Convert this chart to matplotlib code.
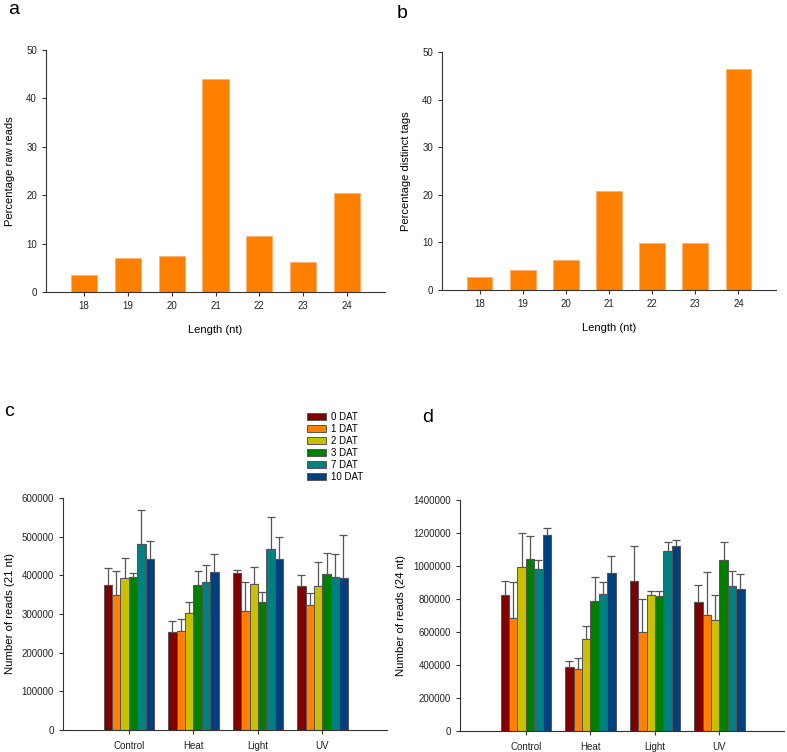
import matplotlib
matplotlib.use("Agg")
import matplotlib.pyplot as plt
import numpy as np

plt.rcParams['font.family'] = ['Liberation Sans', 'DejaVu Sans']

# ---------------- data ----------------
lengths = [18, 19, 20, 21, 22, 23, 24]
pct_raw_reads = [3.5, 7.1, 7.5, 44.1, 11.5, 6.1, 20.4]
pct_distinct_tags = [2.7, 4.3, 6.2, 20.9, 9.9, 9.9, 46.4]

treatments = ["Control", "Heat", "Light", "UV"]
dat_labels = ["0 DAT", "1 DAT", "2 DAT", "3 DAT", "7 DAT", "10 DAT"]
dat_colors = ["#800000", "#FF8000", "#C8C000", "#008000", "#008080", "#004080"]

# panel c: reads 21 nt (mean per treatment, one list per DAT)
c_0dat = [374000, 254000, 405000, 373000]
c_1dat = [348000, 257000, 307000, 324000]
c_2dat = [392000, 303000, 378000, 372000]
c_3dat = [396000, 374000, 331000, 404000]
c_7dat = [480000, 382000, 469000, 395000]
c_10dat = [442000, 408000, 441000, 392000]
c_0dat_err = [45000, 28000, 9000, 28000]
c_1dat_err = [64000, 29000, 77000, 30000]
c_2dat_err = [54000, 28000, 44000, 62000]
c_3dat_err = [11000, 37000, 26000, 54000]
c_7dat_err = [88000, 44000, 83000, 60000]
c_10dat_err = [47000, 47000, 59000, 113000]

# panel d: reads 24 nt
d_0dat = [823000, 389000, 912000, 781000]
d_1dat = [684000, 377000, 603000, 704000]
d_2dat = [996000, 557000, 825000, 672000]
d_3dat = [1043000, 787000, 817000, 1035000]
d_7dat = [981000, 833000, 1090000, 881000]
d_10dat = [1188000, 956000, 1120000, 863000]
d_0dat_err = [89000, 38000, 210000, 106000]
d_1dat_err = [220000, 67000, 196000, 258000]
d_2dat_err = [206000, 82000, 22000, 155000]
d_3dat_err = [137000, 149000, 34000, 113000]
d_7dat_err = [54000, 71000, 58000, 89000]
d_10dat_err = [44000, 105000, 40000, 89000]

c_means = [c_0dat, c_1dat, c_2dat, c_3dat, c_7dat, c_10dat]
c_errs = [c_0dat_err, c_1dat_err, c_2dat_err, c_3dat_err, c_7dat_err, c_10dat_err]
d_means = [d_0dat, d_1dat, d_2dat, d_3dat, d_7dat, d_10dat]
d_errs = [d_0dat_err, d_1dat_err, d_2dat_err, d_3dat_err, d_7dat_err, d_10dat_err]

# ---------------- figure ----------------
fig = plt.figure(figsize=(7.87, 7.52), dpi=100)
W, H = 787, 752


def add_axes_px(l, t, r, b):
    return fig.add_axes([l / W, 1 - b / H, (r - l) / W, (b - t) / H])


def style_axes(ax):
    for s in ("top", "right"):
        ax.spines[s].set_visible(False)
    for s in ("left", "bottom"):
        ax.spines[s].set_color("#333333")
        ax.spines[s].set_linewidth(0.8)
    ax.tick_params(axis="both", labelsize=7, colors="#333333", length=3, width=0.8,
                   labelcolor="#222222")


def length_panel(ax, vals, ylabel):
    ax.bar(lengths, vals, width=0.6, color="#FF8000", edgecolor="#FFB070", linewidth=0.6)
    ax.set_xlim(17.13, 24.87)
    ax.set_ylim(0, 50)
    ax.set_yticks([0, 10, 20, 30, 40, 50])
    ax.set_xticks(lengths)
    ax.tick_params(axis="x", length=2)
    style_axes(ax)
    ax.set_ylabel(ylabel, fontsize=8, labelpad=8)
    ax.set_xlabel("Length (nt)", fontsize=8, labelpad=10)


ax_a = add_axes_px(46, 50, 385, 292)
length_panel(ax_a, pct_raw_reads, "Percentage raw reads")
ax_b = add_axes_px(442, 52, 776, 290)
length_panel(ax_b, pct_distinct_tags, "Percentage distinct tags")


def group_panel(ax, means, errs, ymax, ystep, ylabel):
    x = np.arange(len(treatments))
    w = 0.13
    for i, (m, e) in enumerate(zip(means, errs)):
        pos = x + (i - 2.5) * w
        ax.bar(pos, m, width=w, color=dat_colors[i], edgecolor="#555555",
               linewidth=0.7, label=dat_labels[i], zorder=2)
        ax.errorbar(pos, m, yerr=[np.zeros(len(m)), e], fmt="none",
                    ecolor="#555555", elinewidth=0.9, capsize=2.6,
                    capthick=0.9, zorder=1)
    ax.set_xlim(-1.02, 4.0)
    ax.set_ylim(0, ymax)
    ax.set_yticks(np.arange(0, ymax + 1, ystep))
    ax.ticklabel_format(axis="y", style="plain")
    ax.set_xticks(x)
    ax.set_xticklabels(treatments)
    ax.tick_params(axis="x", length=0, pad=5)
    style_axes(ax)
    ax.set_ylabel(ylabel, fontsize=8.2, labelpad=5)


ax_c = add_axes_px(63, 498, 387, 730)
group_panel(ax_c, c_means, c_errs, 600000, 100000, "Number of reads (21 nt)")
ax_d = add_axes_px(460, 500, 784, 731)
group_panel(ax_d, d_means, d_errs, 1400000, 200000, "Number of reads (24 nt)")

handles, labels = ax_c.get_legend_handles_labels()
fig.legend(handles, labels, loc="upper left",
           bbox_to_anchor=(303 / W, 1 - 408 / H), frameon=False,
           fontsize=7, handlelength=2.0, handleheight=0.7,
           labelspacing=0.2, handletextpad=0.5, borderaxespad=0)

# panel letters
fig.text(8 / W, 1 - 9 / H, "a", fontsize=14, va="center", ha="left")
fig.text(397 / W, 1 - 13 / H, "b", fontsize=14, va="center", ha="left")
fig.text(4 / W, 1 - 412 / H, "c", fontsize=14, va="center", ha="left")
fig.text(422 / W, 1 - 418 / H, "d", fontsize=14, va="center", ha="left")

fig.savefig("out.png", dpi=100)
